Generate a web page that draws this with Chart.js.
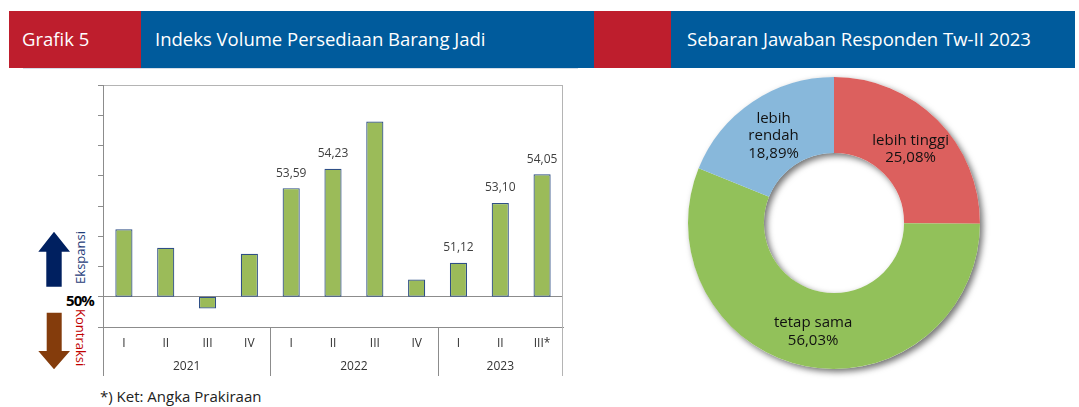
<!DOCTYPE html>
<html>
<head>
<meta charset="utf-8">
<script src="https://cdn.jsdelivr.net/npm/chart.js@4.4.1/dist/chart.umd.min.js"></script>
<style>
  html, body { margin:0; padding:0; background:#fff; }
  body { width:1079px; height:407px; position:relative; overflow:hidden; font-family:"Open Sans", "Noto Sans", sans-serif; }
  .box { position:absolute; }
  .hdr { position:absolute; color:#fff; font-size:18.5px; line-height:22px; white-space:nowrap; }
  #barWrap { position:absolute; left:0; top:70px; width:580px; height:320px; }
  #pieWrap { position:absolute; left:674px; top:63px; width:320px; height:320px; }
  .vtext { position:absolute; writing-mode:vertical-rl; font-size:13px; line-height:14px; white-space:nowrap; }
</style>
</head>
<body>
  <!-- headers -->
  <div class="box" style="left:9px;top:11px;width:132px;height:57px;background:#BE1E2D;"></div>
  <div class="box" style="left:141px;top:11px;width:453px;height:57px;background:#005B9C;"></div>
  <div class="box" style="left:594px;top:11px;width:77px;height:57px;background:#BE1E2D;"></div>
  <div class="box" style="left:671px;top:11px;width:404px;height:57px;background:#005B9C;"></div>
  <div class="hdr" style="left:22px;top:28px;">Grafik 5</div>
  <div class="hdr" style="left:155px;top:28px;">Indeks Volume Persediaan Barang Jadi</div>
  <div class="hdr" style="left:687px;top:28px;">Sebaran Jawaban Responden Tw-II 2023</div>
  <div class="box" style="left:23px;top:68px;width:555px;height:1px;background:#d4dde8;"></div>

  <!-- arrows -->
  <svg class="box" style="left:0;top:0;" width="120" height="407">
    <polygon points="54,231.7 70,251.7 61.7,251.7 61.7,286.7 46.3,286.7 46.3,251.7 38.3,251.7" fill="#002060"/>
    <polygon points="46.7,312.7 61.7,312.7 61.7,351 70,351 54,369.3 38.3,351 46.7,351" fill="#843C0C"/>
  </svg>
  <div class="vtext" style="left:73px;top:231px;color:#1F3D7A;transform:rotate(180deg);">Ekspansi</div>
  <div class="vtext" style="left:74px;top:309px;color:#C00000;">Kontraksi</div>
  <div class="box" style="left:66px;top:290px;font-size:15px;font-weight:bold;color:#000;letter-spacing:-0.9px;">50%</div>
  <div class="box" style="left:100px;top:386px;font-size:15px;color:#222;">*) Ket: Angka Prakiraan</div>

  <div id="barWrap"><canvas id="bar" width="580" height="320"></canvas></div>
  <div id="pieWrap"><canvas id="pie" width="320" height="320"></canvas></div>

<script>
// ---------- data ----------
const quarters = ['I', 'II', 'III', 'IV', 'I', 'II', 'III', 'IV', 'I', 'II', 'III*'];
const years = ['2021', '2022', '2023'];
const yearSpans = [4, 4, 3];
const indexValues = [52.23, 51.62, 49.61, 51.42, 53.59, 54.23, 55.79, 50.57, 51.12, 53.10, 54.05];
const labelShown = [false, false, false, false, true, true, false, false, true, true, true];
const baseline = 50;
const yMin = 49, yMax = 57;

const shareNames = [['lebih tinggi'], ['tetap sama'], ['lebih', 'rendah']];
const shareValues = [25.08, 56.03, 18.89];
const shareColors = ['#DC605E', '#92C15A', '#88B8DB'];

const FONT = '"Open Sans", "Noto Sans", sans-serif';
const fmt = v => v.toFixed(2).replace('.', ',');

// ---------- bar chart ----------
const barDecor = {
  id: 'barDecor',
  afterDraw(chart) {
    const ctx = chart.ctx;
    const x = chart.scales.x;
    const a = chart.chartArea;
    const axisBottom = a.bottom + 49;
    ctx.save();
    ctx.lineWidth = 1;
    ctx.strokeStyle = '#B4B4B4';
    ctx.beginPath();
    ctx.moveTo(a.left, a.top + 0.5); ctx.lineTo(a.right, a.top + 0.5);
    ctx.moveTo(a.right - 0.5, a.top); ctx.lineTo(a.right - 0.5, axisBottom);
    ctx.stroke();
    ctx.strokeStyle = '#8C8C8C';
    ctx.beginPath();
    ctx.moveTo(a.left + 0.5, a.top); ctx.lineTo(a.left + 0.5, axisBottom);
    let idx = 0;
    for (let g = 0; g < yearSpans.length - 1; g++) {
      idx += yearSpans[g];
      const sx = Math.round((x.getPixelForValue(idx - 1) + x.getPixelForValue(idx)) / 2) + 0.5;
      ctx.moveTo(sx, a.bottom); ctx.lineTo(sx, axisBottom);
    }
    ctx.stroke();
    ctx.fillStyle = '#333';
    ctx.font = '12px ' + FONT;
    ctx.textAlign = 'center';
    ctx.textBaseline = 'middle';
    let start = 0;
    years.forEach((yr, g) => {
      const end = start + yearSpans[g] - 1;
      const cx = (x.getPixelForValue(start) + x.getPixelForValue(end)) / 2;
      ctx.fillText(yr, cx, a.bottom + 40);
      start += yearSpans[g];
    });
    const meta = chart.getDatasetMeta(0);
    ctx.fillStyle = '#404040';
    meta.data.forEach((bar, i) => {
      if (!labelShown[i]) return;
      ctx.fillText(fmt(indexValues[i]), bar.x, bar.y - 15);
    });
    ctx.restore();
  }
};

new Chart(document.getElementById('bar'), {
  type: 'bar',
  data: {
    labels: quarters,
    datasets: [{
      data: indexValues.map(v => [baseline, v]),
      backgroundColor: '#9BBB59',
      borderColor: '#2F4F86',
      borderWidth: 1.2,
      borderSkipped: false,
      barPercentage: 0.41,
      categoryPercentage: 1.0
    }]
  },
  options: {
    responsive: false,
    animation: false,
    events: [],
    layout: { padding: { left: 97, right: 17, top: 15, bottom: 14 } },
    plugins: { legend: { display: false }, tooltip: { enabled: false } },
    scales: {
      x: {
        grid: { display: false, drawTicks: false },
        border: { display: true, color: '#8C8C8C', width: 1 },
        ticks: { color: '#333', font: { size: 12, family: FONT }, padding: 9, maxRotation: 0, autoSkip: false },
        afterFit(s) { s.height = 49; }
      },
      y: {
        min: yMin, max: yMax,
        ticks: { stepSize: 1, display: false },
        grid: {
          color: c => (c.tick && (c.tick.value === baseline || c.tick.value === yMin)) ? '#8C8C8C' : 'rgba(0,0,0,0)',
          tickColor: '#8C8C8C',
          tickLength: 5,
          drawTicks: true
        },
        border: { display: true, color: '#8C8C8C' },
        afterFit(s) { s.width = 6; }
      }
    }
  },
  plugins: [barDecor]
});

// ---------- doughnut ----------
const ringShadow = {
  id: 'ringShadow',
  beforeDatasetsDraw(chart) {
    const arc = chart.getDatasetMeta(0).data[0];
    if (!arc) return;
    const ctx = chart.ctx;
    ctx.save();
    ctx.shadowColor = 'rgba(0,0,0,0.55)';
    ctx.shadowBlur = 6;
    ctx.shadowOffsetX = 3;
    ctx.shadowOffsetY = 3;
    ctx.fillStyle = '#ffffff';
    ctx.beginPath();
    ctx.arc(arc.x, arc.y, arc.outerRadius, 0, Math.PI * 2);
    ctx.arc(arc.x, arc.y, arc.innerRadius, Math.PI * 2, 0, true);
    ctx.closePath();
    ctx.fill('evenodd');
    ctx.restore();
  },
  afterDatasetsDraw(chart) {
    const ctx = chart.ctx;
    ctx.save();
    ctx.fillStyle = '#111';
    ctx.font = '15px ' + FONT;
    ctx.textAlign = 'center';
    ctx.textBaseline = 'middle';
    chart.getDatasetMeta(0).data.forEach((arc, i) => {
      const p = arc.tooltipPosition();
      const lines = shareNames[i].concat([fmt(shareValues[i]) + '%']);
      const lh = 17.5;
      const y0 = p.y + 2.5 - (lines.length - 1) * lh / 2;
      lines.forEach((t, k) => ctx.fillText(t, p.x, y0 + k * lh));
    });
    ctx.restore();
  }
};

new Chart(document.getElementById('pie'), {
  type: 'doughnut',
  data: {
    labels: shareNames.map(n => n.join(' ')),
    datasets: [{
      data: shareValues,
      backgroundColor: shareColors,
      borderWidth: 0
    }]
  },
  options: {
    responsive: false,
    animation: false,
    events: [],
    cutout: '48%',
    layout: { padding: { left: 14, top: 14, right: 14, bottom: 14 } },
    plugins: { legend: { display: false }, tooltip: { enabled: false } }
  },
  plugins: [ringShadow]
});
</script>
</body>
</html>
